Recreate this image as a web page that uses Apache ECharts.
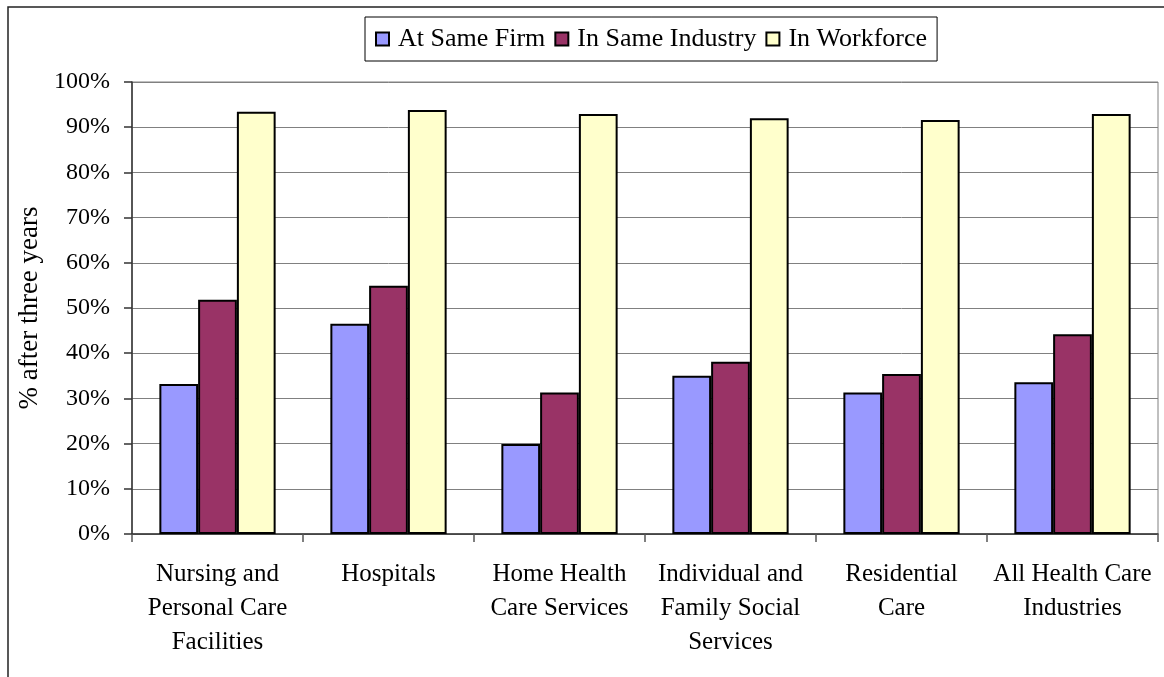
<!DOCTYPE html>
<html>
<head>
<meta charset="utf-8">
<script src="https://cdn.jsdelivr.net/npm/echarts@6/dist/echarts.min.js"></script>
<style>
html,body{margin:0;padding:0;background:#fff;}
#chart{width:1164px;height:677px;}
</style>
</head>
<body>
<div id="chart"></div>
<script>
var categories = ['Nursing and\nPersonal Care\nFacilities', 'Hospitals', 'Home Health\nCare Services', 'Individual and\nFamily Social\nServices', 'Residential\nCare', 'All Health Care\nIndustries'];
var seriesNames = ['At Same Firm', 'In Same Industry', 'In Workforce'];
var atSameFirm = [33.2, 46.5, 19.9, 35.0, 31.3, 33.6];
var inSameIndustry = [51.8, 54.9, 31.3, 38.1, 35.4, 44.2];
var inWorkforce = [93.4, 93.8, 92.9, 92.0, 91.6, 92.9];
var yTicks = [0, 10, 20, 30, 40, 50, 60, 70, 80, 90, 100];

var colors = ['#9999FF', '#993366', '#FFFFCC'];
var font = '"Liberation Serif", "Times New Roman", serif';
var dataSets = [atSameFirm, inSameIndustry, inWorkforce];

var chart = echarts.init(document.getElementById('chart'), null, {renderer: 'canvas'});
var option = {
  backgroundColor: '#ffffff',
  animation: false,
  textStyle: {fontFamily: font, color: '#000'},
  graphic: [{
    type: 'rect',
    shape: {x: 8, y: 7, width: 1300, height: 800},
    style: {fill: 'none', stroke: '#222', lineWidth: 1.5},
    silent: true
  }],
  legend: {
    left: 365,
    top: 17,
    width: 700,
    padding: [9, 10, 9, 10],
    borderColor: '#000',
    borderWidth: 1,
    icon: 'rect',
    itemWidth: 13,
    itemHeight: 13,
    itemGap: 9,
    textStyle: {fontFamily: font, fontSize: 26, color: '#000', padding: [0, 0, 0, 4]},
    data: seriesNames
  },
  grid: {
    left: 132, right: 6, top: 82, bottom: 143,
    show: true, borderColor: '#808080', borderWidth: 1,
    containLabel: false
  },
  xAxis: {
    type: 'category',
    data: categories,
    axisLine: {lineStyle: {color: '#333', width: 1.5}},
    axisTick: {show: true, length: 8, lineStyle: {color: '#555', width: 1.5}},
    axisLabel: {fontFamily: font, fontSize: 25, color: '#000', margin: 23, lineHeight: 34, interval: 0, align: 'center'}
  },
  yAxis: {
    type: 'value',
    min: 0, max: 100, interval: 10,
    name: '% after three years',
    nameLocation: 'middle',
    nameGap: 86,
    nameRotate: 90,
    nameTextStyle: {fontFamily: font, fontSize: 27, color: '#000'},
    axisLine: {show: true, lineStyle: {color: '#333', width: 1.5}},
    axisTick: {show: true, length: 8, lineStyle: {color: '#333', width: 1.5}},
    axisLabel: {fontFamily: font, fontSize: 24, color: '#000', margin: 22,
      formatter: function (v) { return yTicks.indexOf(v) >= 0 ? v + '%' : ''; }},
    splitLine: {show: true, lineStyle: {color: '#808080', width: 1}}
  },
  series: seriesNames.map(function (name, i) {
    return {
      name: name,
      type: 'bar',
      data: dataSets[i],
      barGap: '0%',
      barCategoryGap: '32%',
      itemStyle: {color: colors[i], borderColor: '#000', borderWidth: 2}
    };
  })
};
chart.setOption(option);
</script>
</body>
</html>
